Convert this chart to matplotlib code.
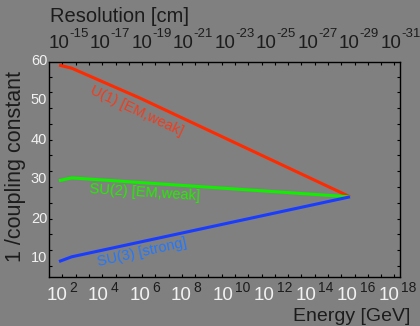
import matplotlib
matplotlib.use("Agg")
import matplotlib.pyplot as plt
from matplotlib.ticker import MultipleLocator, NullLocator
from matplotlib.transforms import offset_copy

plt.rcParams['font.family'] = ['Liberation Sans', 'DejaVu Sans']

# log10(E / GeV) vs 1/alpha
log_energy = [1.76, 2.37, 5.67, 15.78]
inv_u1 = [58.9, 58.1, 50.5, 25.5]
log_energy_23 = [1.76, 2.37, 15.78]
inv_su2 = [29.6, 30.3, 25.5]
inv_su3 = [9.1, 10.3, 25.5]

energy_exp = [2, 4, 6, 8, 10, 12, 14, 16, 18]
resolution_exp = [-15, -17, -19, -21, -23, -25, -27, -29, -31]
y_ticks = [10, 20, 30, 40, 50, 60]

bg = '#808080'
dark = '#1c1c1c'
light = '#f2f2f2'

fig = plt.figure(figsize=(4.2, 3.26), dpi=100, facecolor=bg)
ax = fig.add_axes([0.1174, 0.1512, 0.835, 0.6595], facecolor=bg)

ax.plot(log_energy, inv_u1, color='#ff2a00', lw=2.2, solid_capstyle='butt')
ax.plot(log_energy_23, inv_su2, color='#11ee00', lw=2.2, solid_capstyle='butt')
ax.plot(log_energy_23, inv_su3, color='#1a3cff', lw=2.2, solid_capstyle='butt')

ax.text(5.52, 47.3, 'U(1) [EM,weak]', color='#f03c1e', fontsize=10.5,
        rotation=-25, ha='center', va='center', rotation_mode='anchor')
ax.text(5.9, 26.7, 'SU(2) [EM,weak]', color='#22ee00', fontsize=10.5,
        rotation=-3.7, ha='center', va='center', rotation_mode='anchor')
ax.text(5.76, 11.5, 'SU(3) [strong]', color='#2277ff', fontsize=10.5,
        rotation=12.5, ha='center', va='center', rotation_mode='anchor')

ax.set_xlim(1.29, 18.19)
ax.set_ylim(5.25, 59.75)

for s in ax.spines.values():
    s.set_color('black')
    s.set_linewidth(1.0)

# tick marks: small inward dashes only
ax.xaxis.set_major_locator(NullLocator())
ax.yaxis.set_major_locator(NullLocator())
ax.xaxis.set_minor_locator(MultipleLocator(0.64))
ax.yaxis.set_minor_locator(MultipleLocator(4))
ax.tick_params(which='minor', direction='in', length=2, width=0.8, color='black',
               top=True, right=True)

# bottom labels: white "10" with dark exponent
xt = ax.get_xaxis_transform()
for e in energy_exp:
    ax.text(e, -0.05, '10', transform=offset_copy(xt, fig=fig, x=3, y=0, units='dots'),
            ha='right', va='top', color=light, fontsize=13.5)
    ax.text(e, -0.02, str(e), transform=offset_copy(xt, fig=fig, x=5, y=0, units='dots'),
            ha='left', va='top', color=dark, fontsize=10)

# top labels: resolution in cm
for e, r in zip(energy_exp, resolution_exp):
    ax.text(e, 1.045, '10', transform=offset_copy(xt, fig=fig, x=5, y=0, units='dots'),
            ha='right', va='bottom', color=dark, fontsize=13.5)
    ax.text(e, 1.1, str(r), transform=offset_copy(xt, fig=fig, x=5, y=0, units='dots'),
            ha='left', va='bottom', color=dark, fontsize=9.5)

yt = ax.get_yaxis_transform()
for v in y_ticks:
    ax.text(-0.006, v, str(v), transform=yt, ha='right', va='center',
            color=light, fontsize=10.5)

fig.text(0.119, 0.95, 'Resolution [cm]', color=dark, fontsize=14.5, ha='left', va='center')
fig.text(0.976, 0.004, 'Energy [GeV]', color=dark, fontsize=14, ha='right', va='bottom')
fig.text(0.036, 0.488, '1 /coupling constant', color=dark, fontsize=15.5,
         rotation=90, ha='center', va='center')

fig.savefig('out.png', dpi=100, facecolor=bg)
